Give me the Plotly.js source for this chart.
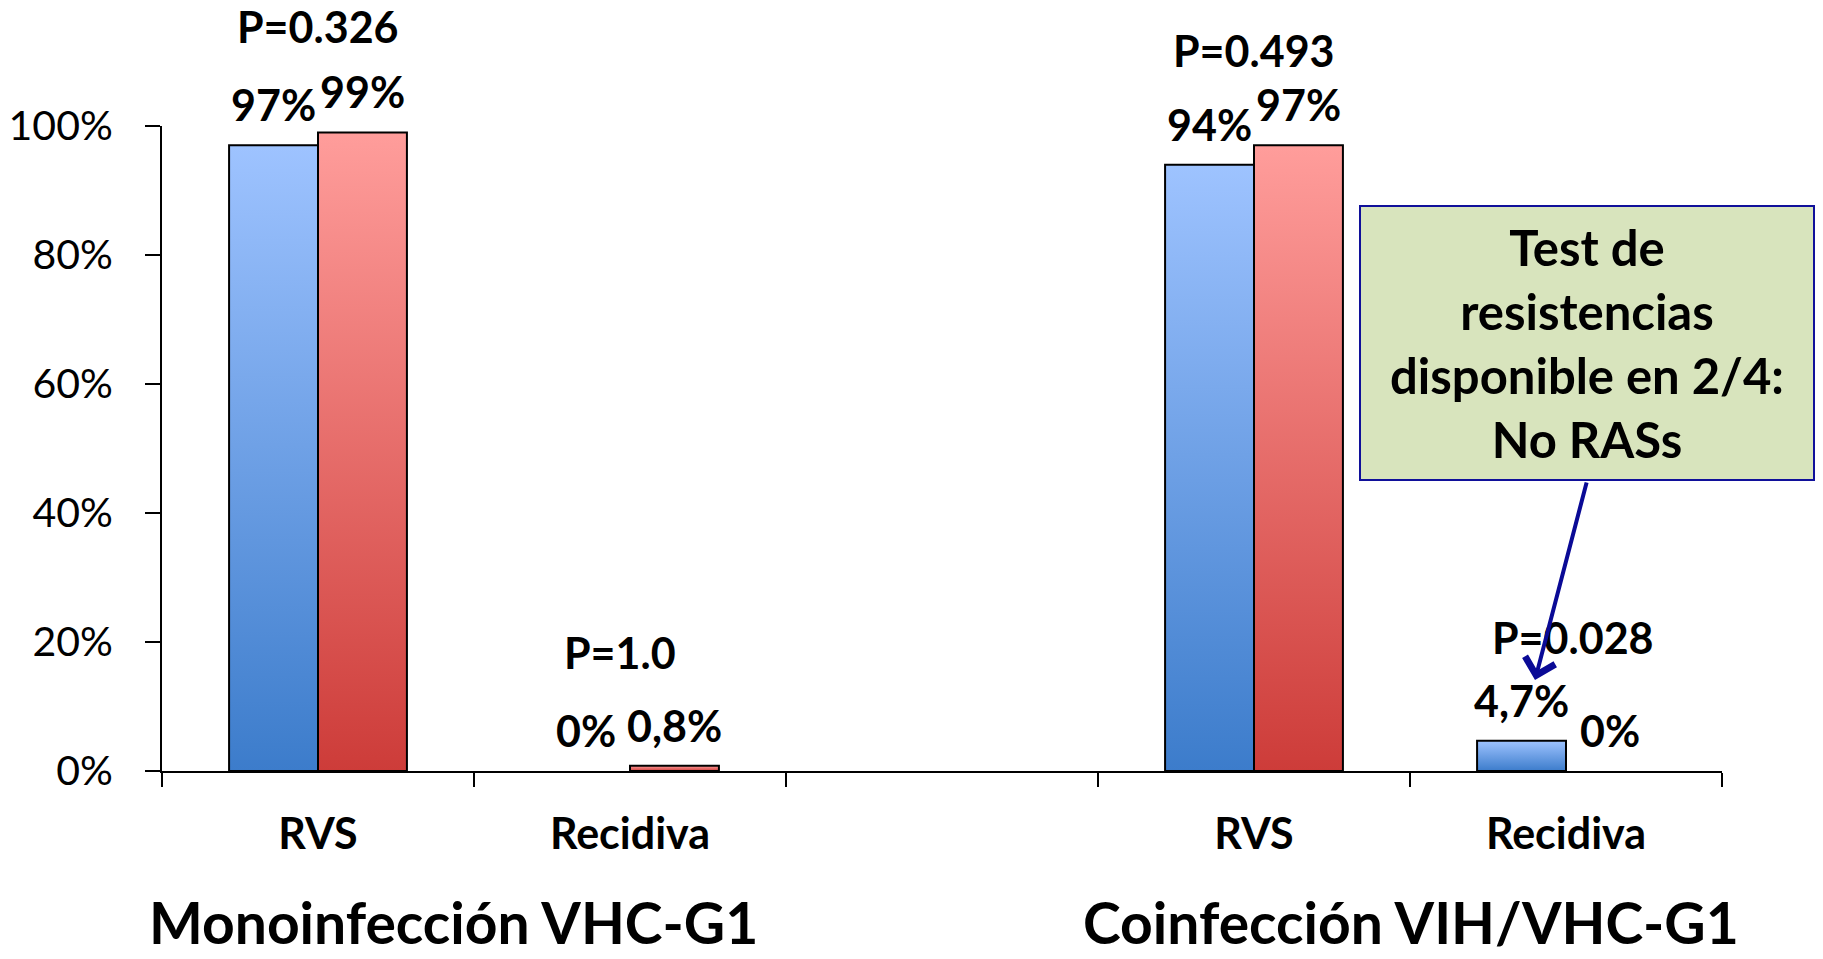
<!DOCTYPE html>
<html><head><meta charset="utf-8">
<script src="https://cdn.plot.ly/plotly-3.0.1.min.js"></script>
<style>html,body{margin:0;padding:0;background:#fff;} #chart{width:1823px;height:959px;}</style>
</head><body><div id="chart"></div>
<script>
// ---- data ----
const groupNames = ['Monoinfección VHC-G1', 'Coinfección VIH/VHC-G1'];
const categories = ['RVS', 'Recidiva'];
const seriesNames = ['Brazo A', 'Brazo B'];
const blueValues = [0.97, 0, 0.94, 0.047];
const redValues = [0.99, 0.008, 0.97, 0];
const blueLabels = ['97%', '0%', '94%', '4,7%'];
const redLabels = ['99%', '0,8%', '97%', '0%'];
const pLabels = ['P=0.326', 'P=1.0', 'P=0.493', 'P=0.028'];
const yTickVals = [0, 0.2, 0.4, 0.6, 0.8, 1];
const yTickText = ['0%', '20%', '40%', '60%', '80%', '100%'];
const noteLines = ['Test de', 'resistencias', 'disponible en 2/4:', 'No RASs'];

// ---- build category keys ----
const barKeys = [];
const axisKeys = [];
const axisText = [];
groupNames.forEach((g, gi) => {
  if (gi > 0) { axisKeys.push('sep' + gi); axisText.push(''); }
  categories.forEach(c => {
    const k = c + '|' + gi;
    barKeys.push(k); axisKeys.push(k); axisText.push(c);
  });
});

// ---- layout constants ----
const W = 1823, H = 959;
const M = {l: 162, r: 101, t: 126, b: 188};
const plotW = W - M.l - M.r, plotH = H - M.t - M.b;
const bargap = 0.43;
const catW = plotW / axisKeys.length;
const half = catW * (1 - bargap) / 4;
const FONT = 'Lato, "Open Sans", sans-serif';
const labelFont = {family: FONT, size: 43, color: '#000', weight: 700};
const lineW = vals => vals.map(v => v > 0 ? 2 : 0);

const traces = [
  {type: 'bar', name: seriesNames[0], x: barKeys, y: blueValues,
   marker: {color: '#6b9be0', line: {color: '#000', width: lineW(blueValues)}}, hoverinfo: 'skip'},
  {type: 'bar', name: seriesNames[1], x: barKeys, y: redValues,
   marker: {color: '#e57373', line: {color: '#000', width: lineW(redValues)}}, hoverinfo: 'skip'}
];

const annotations = [];
barKeys.forEach((k, i) => {
  annotations.push({x: k, y: blueValues[i], xref: 'x', yref: 'y', xshift: -half, yshift: 13,
    yanchor: 'bottom', xanchor: 'center', showarrow: false, text: blueLabels[i], font: labelFont});
  annotations.push({x: k, y: redValues[i], xref: 'x', yref: 'y', xshift: half, yshift: 13,
    yanchor: 'bottom', xanchor: 'center', showarrow: false, text: redLabels[i], font: labelFont});
});
const pShiftY = [106, 113, 95, 103];
const pShiftX = [0, -10, 0, 7];
barKeys.forEach((k, i) => {
  annotations.push({x: k, y: Math.max(blueValues[i], redValues[i]), xref: 'x', yref: 'y',
    xshift: pShiftX[i], yshift: pShiftY[i], yanchor: 'middle', xanchor: 'center',
    showarrow: false, text: pLabels[i], font: labelFont});
});
// group titles
const titleX = [453, 1411];
groupNames.forEach((g, gi) => {
  annotations.push({x: (titleX[gi] - M.l) / plotW, y: (H - M.b - 922) / plotH, xref: 'paper', yref: 'paper',
    xanchor: 'center', yanchor: 'middle', showarrow: false, text: g,
    font: {family: FONT, size: 57, color: '#000', weight: 700}});
});
// note box
annotations.push({x: (1587 - M.l) / plotW, y: (H - M.b - 343) / plotH, xref: 'paper', yref: 'paper',
  xanchor: 'center', yanchor: 'middle', showarrow: false, text: noteLines.join('<br>'),
  width: 452, height: 272, bgcolor: '#D8E4BD', bordercolor: '#10109A', borderwidth: 2, borderpad: 0,
  align: 'center', font: {family: FONT, size: 49, color: '#000', weight: 700}});
// arrow
annotations.push({x: (1535 - M.l) / plotW, y: (H - M.b - 680) / plotH, xref: 'paper', yref: 'paper',
  ax: 52, ay: -199, text: '', showarrow: true, arrowhead: 4, arrowsize: 1.5, arrowwidth: 4,
  arrowcolor: '#0A0A96', standoff: 0, startstandoff: 0});

const layout = {
  width: W, height: H, margin: M, showlegend: false,
  paper_bgcolor: '#fff', plot_bgcolor: '#fff',
  barmode: 'group', bargap: bargap, bargroupgap: 0,
  xaxis: {type: 'category', categoryorder: 'array', categoryarray: axisKeys,
    tickmode: 'array', tickvals: axisKeys, ticktext: axisText, range: [-0.5, axisKeys.length - 0.5],
    tickson: 'boundaries', ticks: 'outside', ticklen: 14, tickwidth: 2, tickcolor: '#000',
    showline: true, linecolor: '#000', linewidth: 2, showgrid: false, zeroline: false,
    ticklabelstandoff: 24, tickfont: {family: FONT, size: 43, color: '#000', weight: 700}},
  yaxis: {range: [0, 1], tickmode: 'array', tickvals: yTickVals, ticktext: yTickText,
    ticks: 'outside', ticklen: 15, tickwidth: 2, tickcolor: '#000',
    showline: true, linecolor: '#000', linewidth: 2, showgrid: false, zeroline: false,
    ticklabelstandoff: 24, tickfont: {family: FONT, size: 41, color: '#000'}},
  annotations: annotations
};

Plotly.newPlot('chart', traces, layout, {displayModeBar: false, staticPlot: true}).then(gd => {
  const svg = gd.querySelector('svg.main-svg');
  const NS = 'http://www.w3.org/2000/svg';
  let defs = svg.querySelector('defs');
  if (!defs) { defs = document.createElementNS(NS, 'defs'); svg.insertBefore(defs, svg.firstChild); }
  const grads = {gBlue: ['#9EC3FF', '#3C7CCB'], gRed: ['#FF9D9B', '#CD3C39']};
  Object.keys(grads).forEach(id => {
    const lg = document.createElementNS(NS, 'linearGradient');
    lg.setAttribute('id', id); lg.setAttribute('x1', '0'); lg.setAttribute('y1', '0');
    lg.setAttribute('x2', '0'); lg.setAttribute('y2', '1');
    grads[id].forEach((c, j) => {
      const s = document.createElementNS(NS, 'stop');
      s.setAttribute('offset', j ? '1' : '0'); s.setAttribute('stop-color', c);
      lg.appendChild(s);
    });
    defs.appendChild(lg);
  });
  const traceGs = gd.querySelectorAll('.barlayer .trace');
  traceGs.forEach((tg, ti) => {
    tg.querySelectorAll('path').forEach(p => { p.style.fill = ti === 0 ? 'url(#gBlue)' : 'url(#gRed)'; });
  });
});
</script>
</body></html>
